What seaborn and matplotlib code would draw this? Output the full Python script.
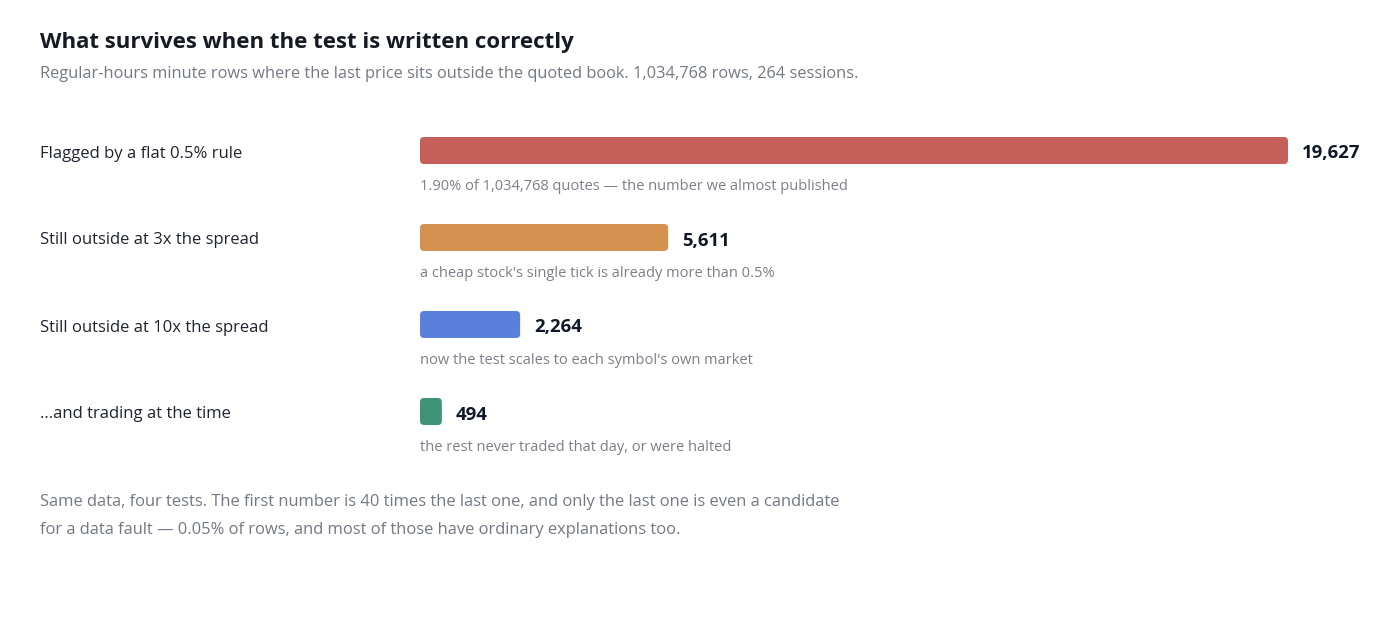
import matplotlib
matplotlib.use("Agg")
import matplotlib.pyplot as plt
import pandas as pd
import seaborn as sns
from matplotlib.patches import FancyBboxPatch

sns.set_theme(style="white")
plt.rcParams["font.family"] = ["Open Sans", "DejaVu Sans"]

TITLE = "What survives when the test is written correctly"
SUBTITLE = ("Regular-hours minute rows where the last price sits outside the quoted book. "
            "1,034,768 rows, 264 sessions.")
STEPS = [
    "Flagged by a flat 0.5% rule",
    "Still outside at 3x the spread",
    "Still outside at 10x the spread",
    "...and trading at the time",
]
COUNTS = [19627, 5611, 2264, 494]
NOTES = [
    "1.90% of 1,034,768 quotes \u2014 the number we almost published",
    "a cheap stock's single tick is already more than 0.5%",
    "now the test scales to each symbol's own market",
    "the rest never traded that day, or were halted",
]
COLORS = ["#c45f5a", "#d4914f", "#5b80db", "#3f9475"]
FOOTER = [
    "Same data, four tests. The first number is 40 times the last one, and only the last one is even a candidate",
    "for a data fault \u2014 0.05% of rows, and most of those have ordinary explanations too.",
]

W, H = 1400, 641
fig = plt.figure(figsize=(W / 100, H / 100), dpi=100)

# axes placed in pixel terms: bars start at x=420, longest ends at x=1288
ax_left, ax_right = 420, 1288
ax_top, ax_bottom = 107, 455
ax = fig.add_axes([ax_left / W, 1 - ax_bottom / H,
                   (ax_right - ax_left) / W, (ax_bottom - ax_top) / H])

df = pd.DataFrame({"step": STEPS, "count": COUNTS})
bar_h = 0.31
sns.barplot(data=df, x="count", y="step", hue="step", palette=COLORS,
            saturation=1, width=bar_h, legend=False, ax=ax)
ax.set_xlim(0, max(COUNTS))
ax.set_ylim(3.5, -0.5)
ax.axis("off")

# swap plain rectangles for rounded ones
x_per_px = max(COUNTS) / (ax_right - ax_left)
y_per_px = 4 / (ax_bottom - ax_top)
for p in list(ax.patches):
    x0, y0 = p.get_x(), p.get_y()
    w, h = p.get_width(), p.get_height()
    fc = p.get_facecolor()
    p.remove()
    ax.add_patch(FancyBboxPatch(
        (x0, y0), w, h,
        boxstyle=f"round,pad=0,rounding_size={4 * x_per_px}",
        mutation_aspect=y_per_px / x_per_px,
        facecolor=fc, edgecolor="none"))

# Open Sans sits a little high when centred, nudge text down a few px
nudge = 3 * y_per_px
for i, (label, n, note) in enumerate(zip(STEPS, COUNTS, NOTES)):
    ax.annotate(f"{n:,}", xy=(n, i + nudge), xytext=(10, 0), textcoords="offset points",
                va="center", ha="left", fontsize=13.3, fontweight="bold", color="#111827")
    ax.text(0, i + 0.4 + nudge * 0.5, note, va="center", ha="left", fontsize=10.5,
            color="#7b7f8a")
    fig.text(40 / W, 1 - (153.5 + 87 * i) / H, label, va="center", ha="left",
             fontsize=12, color="#1f2430")

fig.text(40 / W, 1 - 42.5 / H, TITLE, va="center", ha="left", fontsize=16,
         fontweight="bold", color="#161a22")
fig.text(40 / W, 1 - 74 / H, SUBTITLE, va="center", ha="left", fontsize=11.8,
         color="#737885")
for k, line in enumerate(FOOTER):
    fig.text(40 / W, 1 - (502.5 + 28 * k) / H, line, va="center", ha="left",
             fontsize=11.9, color="#737885")

fig.savefig("out.png", dpi=100, facecolor="white")
